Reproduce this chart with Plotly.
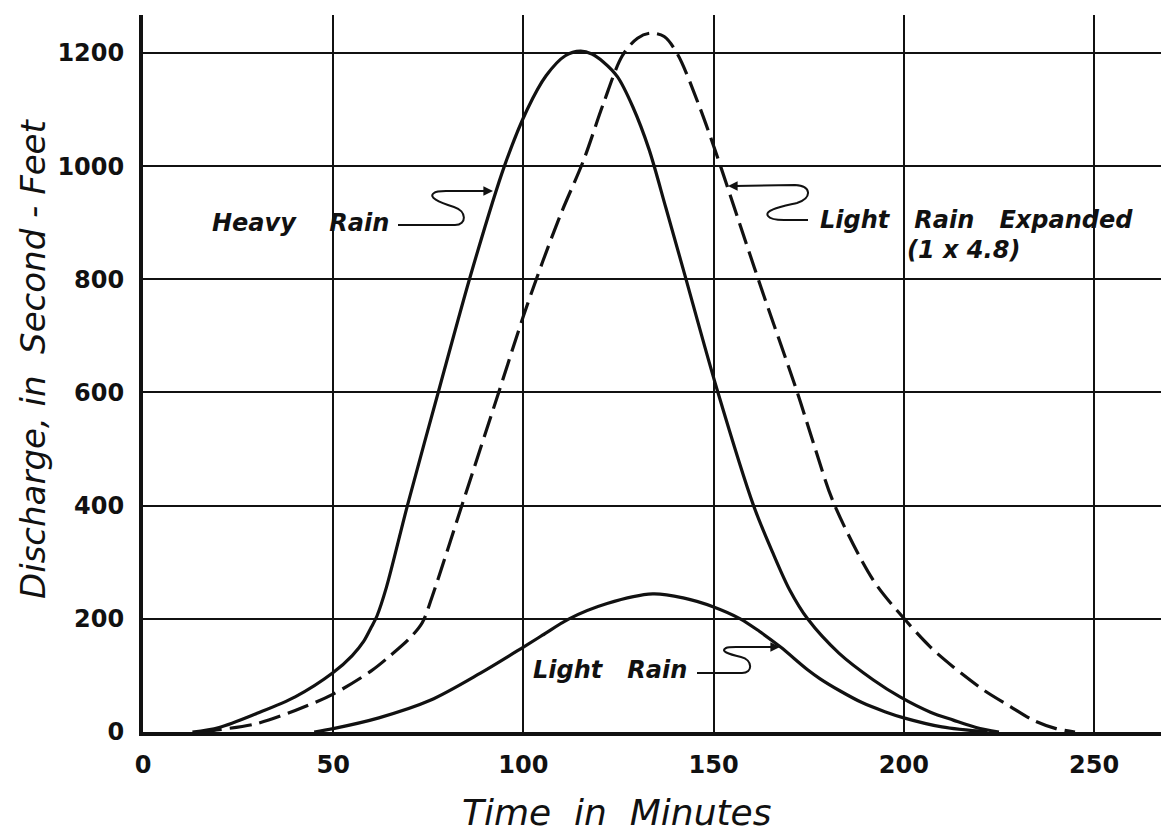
import plotly.graph_objects as go

# ---------------- data ----------------
heavy_t = [13, 20, 30, 40, 50, 55, 58, 60, 61.5, 64, 69.5, 77.6, 86.5, 95, 101, 106, 111, 115,
           118, 121, 124.7, 128.8, 133, 137.5, 142, 151, 160.5, 165.6, 170, 174.7, 183, 192, 199, 207, 213, 219, 225]
heavy_q = [0, 8, 33, 62, 105, 135, 160, 185, 205, 256, 400, 600, 816, 1000, 1100, 1160, 1195, 1203,
           1198, 1184, 1158, 1104, 1030, 925, 818, 603, 400, 316, 251, 200, 139, 92, 62, 35, 21, 8, 0]

expanded_t = [15, 20, 30, 40, 50, 60, 65, 70, 73.4, 76, 84, 93.5, 100, 105, 110, 115.8, 121, 126, 130,
              133.4, 137, 140.5, 146, 151, 157, 163, 172, 176.5, 181.6, 192, 200, 207, 213, 221, 228, 234, 240, 245]
expanded_q = [0, 4, 15, 38, 67, 108, 135, 165, 193, 239, 404, 600, 735, 830, 918, 1010, 1110, 1195, 1226,
              1235, 1229, 1198, 1110, 1016, 895, 775, 600, 505, 404, 268, 201, 150, 115, 74, 45, 21, 6, 0]

light_t = [45, 50, 62, 75.5, 88.7, 100, 105, 112, 122, 134, 142, 150, 157, 162, 167.6, 174.7,
           178, 183.4, 189, 195, 200, 210, 222]
light_q = [0, 6, 25, 56, 104, 150, 171, 200, 227, 244, 237, 221, 200, 178, 150, 110,
           94, 72, 52, 36, 25, 9, 0]

x_ticks = [0, 50, 100, 150, 200, 250]
y_ticks = [0, 200, 400, 600, 800, 1000, 1200]
y_labels = ["0", "200", "400", "600", "800", "1000", "1200"]

# ---------------- layout geometry ----------------
W, H = 1161, 834
ML, MR, MT, MB = 143, 0, 15, 102
PW, PH = W - ML - MR, H - MT - MB
X_MAX = 267.6
Y_MAX = 1267


def to_data(x, y):
    """pixel position on the page -> data coordinates (for decorations only)"""
    return (x - ML) / PW * X_MAX, (H - MB - y) / PH * Y_MAX


def to_paper(x, y):
    return (x - ML) / PW, (H - MB - y) / PH


def path_px(cmds):
    out = []
    for c in cmds:
        if isinstance(c, str):
            out.append(c)
        else:
            t, q = to_data(*c)
            out.append(f"{t:.3f},{q:.3f}")
    return " ".join(out)


INK = "#111111"
LBL_FONT = dict(family="DejaVu Sans", size=24, color=INK)
ANN_FONT = dict(family="DejaVu Sans", size=24, color=INK)

fig = go.Figure()
fig.add_trace(go.Scatter(x=heavy_t, y=heavy_q, mode="lines", name="Heavy Rain",
                         line=dict(color=INK, width=3.2, shape="spline", smoothing=0.9)))
fig.add_trace(go.Scatter(x=expanded_t, y=expanded_q, mode="lines", name="Light Rain Expanded (1 x 4.8)",
                         line=dict(color=INK, width=3.2, dash="22px,8px", shape="spline", smoothing=0.9)))
fig.add_trace(go.Scatter(x=light_t, y=light_q, mode="lines", name="Light Rain",
                         line=dict(color=INK, width=3.2, shape="spline", smoothing=0.9)))

shapes = []
# leader for "Heavy Rain"
shapes.append(dict(type="path", xref="x", yref="y", line=dict(color=INK, width=2),
                   path=path_px(["M", (398, 225), "L", (455, 225), "C", (467, 225), (467, 211), (454, 207),
                                 "C", (438, 202), (428, 197), (434, 193), "C", (436, 191), (440, 191), (446, 191),
                                 "L", (486, 191)])))
# leader for "Light Rain Expanded"
shapes.append(dict(type="path", xref="x", yref="y", line=dict(color=INK, width=2),
                   path=path_px(["M", (735, 186), "L", (795, 185), "C", (812, 186), (812, 198), (797, 203),
                                 "C", (780, 207), (764, 210), (768, 216), "C", (770, 219), (776, 220), (784, 220),
                                 "L", (808, 220)])))
# leader for "Light Rain"
shapes.append(dict(type="path", xref="x", yref="y", line=dict(color=INK, width=2),
                   path=path_px(["M", (697, 673), "L", (742, 673), "C", (753, 673), (753, 660), (741, 657),
                                 "C", (728, 654), (720, 651), (726, 648), "C", (728, 647), (732, 647), (736, 647),
                                 "L", (773, 647)])))

ann = []
# arrow heads
for (tip, tail) in [((493, 191), (480, 191)), ((728, 186), (741, 186)), ((780, 647), (767, 647))]:
    tx, tq = to_data(*tip)
    ann.append(dict(x=tx, y=tq, xref="x", yref="y", text="", showarrow=True, arrowhead=2,
                    arrowsize=1.2, arrowwidth=1.6, arrowcolor=INK,
                    ax=tail[0] - tip[0], ay=tail[1] - tip[1]))

NB = "\u00a0"
for text, (px_, py_) in [(f"<b><i>Heavy{NB*4}Rain</i></b>", (300, 223)),
                         (f"<b><i>Light{NB*3}Rain{NB*3}Expanded</i></b>", (976, 220)),
                         (f"<b><i>(1{NB}x{NB}4.8)</i></b>", (963, 250)),
                         (f"<b><i>Light{NB*3}Rain</i></b>", (610, 670))]:
    tx, tq = to_data(px_, py_)
    ann.append(dict(x=tx, y=tq, xref="x", yref="y", text=text, showarrow=False, font=ANN_FONT))

# axis titles
xp, yp = to_paper(617, 812)
ann.append(dict(x=xp, y=yp, xref="paper", yref="paper", yanchor="middle", xanchor="center",
                text=f"<i>Time{NB*2}in{NB*2}Minutes</i>", showarrow=False,
                font=dict(family="DejaVu Sans", size=36, color=INK)))
xp, yp = to_paper(33, 359)
ann.append(dict(x=xp, y=yp, xref="paper", yref="paper",
                text=f"<i>Discharge,{NB}in{NB}{NB}Second{NB}-{NB}Feet</i>", textangle=-90, showarrow=False,
                xanchor="center", yanchor="middle",
                font=dict(family="DejaVu Sans", size=34, color=INK)))

fig.update_layout(
    width=W, height=H, autosize=False,
    margin=dict(l=ML, r=MR, t=MT, b=MB, pad=0),
    paper_bgcolor="white", plot_bgcolor="white",
    showlegend=False,
    shapes=shapes, annotations=ann,
    xaxis=dict(range=[0, X_MAX], tickvals=x_ticks, ticktext=[f"<b>{v}</b>" for v in x_ticks],
               showgrid=True, gridcolor=INK, gridwidth=2, zeroline=False,
               showline=True, linecolor=INK, linewidth=4, ticks="", ticklabelstandoff=8,
               tickfont=LBL_FONT),
    yaxis=dict(range=[0, Y_MAX], tickvals=y_ticks, ticktext=[f"<b>{v}</b>" for v in y_labels],
               showgrid=True, gridcolor=INK, gridwidth=2, zeroline=False,
               showline=True, linecolor=INK, linewidth=4, ticks="", ticklabelstandoff=10,
               tickfont=LBL_FONT),
)

fig.write_html("out.html", config={"displayModeBar": False},
               post_script="document.body.style.margin='0';")
